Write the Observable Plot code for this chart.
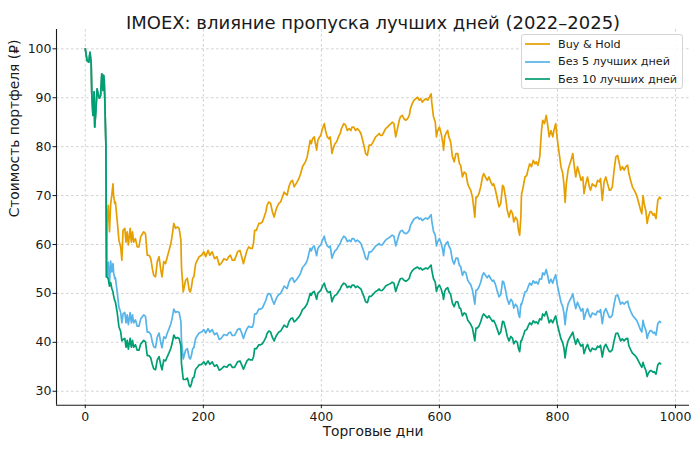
<!DOCTYPE html>
<html>
<head>
<meta charset="utf-8">
<script src="https://cdn.jsdelivr.net/npm/d3@7"></script>
<script src="https://cdn.jsdelivr.net/npm/@observablehq/plot@0.6"></script>
<style>
  html, body { margin: 0; padding: 0; background: #fff; }
  #wrap { position: relative; width: 700px; height: 449px; font-family: "DejaVu Sans", sans-serif; }
  #legend { position: absolute; left: 521px; top: 34px; width: 162px; height: 55px; box-sizing: border-box;
            border: 1px solid #d4d4d4; border-radius: 3px; background: rgba(255,255,255,0.85);
            font-size: 11.2px; color: #1a1a1a; }
  .item { position: absolute; left: 3px; height: 14px; display: flex; align-items: center; white-space: nowrap; }
  .item svg { margin-right: 8px; }
</style>
</head>
<body>
<div id="wrap"><div id="chart"></div><div id="legend"></div></div>
<script>
// ---- Data ----
const titleText = "IMOEX: влияние пропуска лучших дней (2022–2025)";
const xLabel = "Торговые дни";
const yLabel = "Стоимость портфеля (₽)";

const seriesNames = ["Buy & Hold", "Без 5 лучших дней", "Без 10 лучших дней"];
const seriesColors = ["#E69F00", "#56B4E9", "#009E73"];

const xTicks = [0, 200, 400, 600, 800, 1000];
const yTicks = [30, 40, 50, 60, 70, 80, 90, 100];

const days = [
  0,3,6,8,10,11,13,15,16,18,20,22,24,26,28,30,31,32,33,35,36,
  37,39,41,43,45,47,48,50,51,54,57,60,62,
  64,67,69,71,73,76,78,80,82,85,88,91,94,97,99,102,105,108,111,114,116,119,122,125,128,130,133,136,139,142,145,147,150,153,156,159,162,163,166,
  170,173,176,178,180,182,184,187,190,193,
  197,201,204,208,211,215,219,223,227,230,
  235,240,243,246,249,253,258,262,265,268,
  271,274,277,280,283,285,287,290,294,297,
  300,303,306,308,311,314,317,320,323,325,
  328,331,334,337,339,342,345,348,351,354,
  357,359,362,365,368,371,373,376,379,381,
  383,385,388,390,392,394,397,399,402,405,
  407,410,413,415,418,420,423,426,429,432,
  434,438,441,444,447,450,452,455,458,461,
  464,467,470,472,475,478,481,484,486,489,
  492,495,498,500,503,506,509,512,515,518,
  520,523,526,529,532,534,537,540,543,546,
  549,551,554,557,560,563,566,568,571,574,
  577,580,583,586,587,590,593,595,597,600,
  603,606,607,609,611,614,616,619,622,625,
  628,631,634,636,639,642,645,648,650,653,
  656,658,660,662,664,667,670,673,675,678,
  681,684,687,690,692,695,698,701,704,707,
  709,712,715,718,721,724,726,729,732,734,
  736,738,
  739,742,745,748,750,753,756,759,762,764,767,770,
  773,775,778,781,784,786,789,792,794,797,
  800,803,806,809,811,813,815,818,821,823,
  826,828,831,834,837,840,843,845,848,851,
  854,856,859,862,865,868,871,873,876,879,
  882,885,888,890,893,896,899,902,905,907,
  910,913,916,919,921,924,927,930,933,935,
  938,941,943,945,947,950,952,954,957,959,
  962,964,967,970,973,975
];

const buyHold = [
  100,97.6,97.3,99.3,97.0,91.0,86.4,91.2,84.0,87.4,91.8,90.6,89.9,90.5,94.9,91.5,94.6,93.8,90.1,80.0,53.4,
  64.5,68.0,62.6,68.2,70.2,72.4,70.0,68.4,68.7,65.0,60.9,59.5,56.8,
  62.9,63.3,60.5,62.6,59.9,63.3,60.5,62.6,60.5,61.2,59.5,59.5,61.6,62.2,62.6,62.2,57.8,57.8,57.1,54.8,53.7,53.4,56.5,57.5,54.8,53.4,56.5,56.1,57.5,58.8,60.2,61.6,64.3,63.3,63.6,63.3,60.9,55.4,50.3,
  52.7,53.1,50.7,50.3,51.4,53.1,53.4,56.1,56.8,57.5,
  57.8,58.5,57.5,58.8,57.8,58.5,57.1,57.5,55.8,56.1,
  57.1,56.8,57.5,57.8,56.8,56.8,58.5,58.8,57.5,56.1,
  57.5,58.8,59.5,59.2,59.2,60.2,62.9,62.9,64.3,64.3,
  64.6,65.6,66.7,68.0,68.7,68.4,66.7,65.6,67.0,67.7,
  68.4,68.7,69.7,70.7,70.4,70.1,71.8,72.8,73.1,71.8,
  72.4,72.8,73.5,74.5,75.9,76.5,76.9,77.9,79.9,81.3,
  80.6,81.6,82.0,80.6,79.3,81.3,82.0,82.3,83.7,84.7,
  83.3,82.0,81.6,82.0,78.6,79.6,80.6,81.0,82.0,82.7,
  83.7,84.7,84.4,83.3,83.7,83.3,84.0,84.0,83.3,83.7,
  83.3,82.7,81.3,80.3,78.6,78.2,80.3,80.3,80.6,81.3,
  82.0,82.3,82.7,82.3,82.3,83.0,83.7,84.0,84.4,84.7,
  85.0,84.7,82.0,83.7,85.4,86.1,86.4,85.7,85.4,85.7,
  86.4,87.8,88.8,89.5,89.8,90.1,89.5,89.8,89.1,89.5,
  89.8,89.5,90.1,90.8,89.1,86.1,85.0,82.0,83.3,84.0,
  82.7,80.6,79.3,82.0,82.7,83.3,82.0,81.0,78.0,76.9,
  78.6,78.6,76.5,76.2,73.8,74.8,74.5,72.4,71.8,71.1,
  69.7,67.7,65.6,69.7,69.7,70.4,71.8,73.8,74.5,73.8,
  73.1,73.8,72.8,72.1,72.4,71.1,69.4,67.7,68.4,72.1,
  71.8,69.7,67.0,65.6,67.0,66.3,64.6,65.6,65.0,62.9,
  61.9,65.6,
  70.1,71.8,73.8,74.1,75.2,76.5,75.9,77.2,76.5,76.9,76.2,77.9,
  83.3,85.4,84.7,86.4,84.0,82.0,83.3,82.0,83.3,84.7,
  81.3,78.6,75.9,74.5,72.4,68.6,72.4,75.2,76.5,77.2,
  78.6,76.5,73.8,75.9,74.5,73.1,73.8,70.4,72.4,73.8,
  71.8,71.1,72.4,72.1,71.8,73.1,72.8,73.5,69.0,72.8,
  73.8,72.4,71.1,71.1,71.8,75.2,77.9,78.2,76.5,75.2,
  75.9,75.2,75.9,76.2,74.5,73.1,71.8,71.1,70.4,69.7,
  68.4,67.0,66.3,70.0,68.4,66.7,64.3,65.6,66.7,66.7,
  66.0,66.3,65.3,69.0,69.7,69.4
];

const without5 = [
  100,97.6,97.3,99.3,97.0,91.0,86.4,91.2,84.0,87.4,91.8,90.6,89.9,90.5,94.9,91.5,94.6,93.8,90.1,80.0,53.4,
  53.4,56.4,52.0,56.6,54.4,56.1,54.3,53.0,53.2,50.4,47.2,46.1,44.0,
  45.8,46.1,44.0,45.6,43.6,46.1,44.0,45.6,44.0,44.6,43.3,43.3,44.8,45.3,45.6,45.3,42.1,42.1,41.6,39.9,39.1,38.9,41.1,41.9,39.9,38.9,41.1,40.8,41.9,42.8,43.8,44.8,46.8,46.1,46.3,46.1,44.3,40.3,36.6,
  38.4,38.7,36.9,36.6,37.4,38.7,38.9,40.8,41.4,41.9,
  42.1,42.6,41.9,42.8,42.1,42.6,41.6,41.9,40.6,40.8,
  41.6,41.4,41.9,42.1,41.4,41.4,42.6,42.8,41.9,40.8,
  41.9,42.8,43.3,43.1,43.1,43.8,45.8,45.8,46.8,46.8,
  47.0,47.8,48.6,49.5,50.0,49.8,48.6,47.8,48.8,49.3,
  49.8,50.0,50.7,51.5,51.3,51.0,52.3,53.0,53.2,52.3,
  52.7,53.0,53.5,54.2,55.3,55.7,56.0,56.7,58.2,59.2,
  58.7,59.4,59.7,58.7,57.7,59.2,59.7,59.9,60.9,61.7,
  60.6,59.7,59.4,59.7,57.2,57.9,58.7,59.0,59.7,60.2,
  60.9,61.7,61.4,60.6,60.9,60.6,61.2,61.2,60.6,60.9,
  60.6,60.2,59.2,58.5,57.2,56.9,58.5,58.5,58.7,59.2,
  59.7,59.9,60.2,59.9,59.9,60.4,60.9,61.2,61.4,61.7,
  61.9,61.7,59.7,60.9,62.2,62.7,62.9,62.4,62.2,62.4,
  62.9,63.9,64.6,65.2,65.4,65.6,65.2,65.4,64.9,65.2,
  65.4,65.2,65.6,66.1,64.9,62.7,61.9,59.7,60.6,61.2,
  60.2,58.7,57.7,59.7,60.2,60.6,59.7,59.0,56.8,56.0,
  57.2,57.2,55.7,55.5,53.7,54.5,54.2,52.7,52.3,51.8,
  50.7,49.3,47.8,50.7,50.7,51.3,52.3,53.7,54.2,53.7,
  53.2,53.7,53.0,52.5,52.7,51.8,50.5,49.3,49.8,52.5,
  52.3,50.7,48.8,47.8,48.8,48.3,47.0,47.8,47.3,45.8,
  45.1,47.8,
  47.7,48.9,50.3,50.5,51.2,52.1,51.7,52.6,52.1,52.4,51.9,53.0,
  52.9,54.2,53.8,54.9,53.3,52.1,52.9,52.1,52.9,53.8,
  51.6,49.9,48.2,47.3,46.0,43.6,46.0,47.8,48.6,49.0,
  49.9,48.6,46.9,48.2,47.3,46.4,46.9,44.7,46.0,46.9,
  45.6,45.1,46.0,45.8,45.6,46.4,46.2,46.7,43.8,46.2,
  46.9,46.0,45.1,45.1,45.6,47.8,49.5,49.7,48.6,47.8,
  48.2,47.8,48.2,48.4,47.3,46.4,45.6,45.1,44.7,44.3,
  43.4,42.5,42.1,44.5,43.4,42.4,40.8,41.7,42.4,42.4,
  41.9,42.1,41.5,43.8,44.3,44.1
];

const without10 = [
  100,97.6,97.3,99.3,97.0,91.0,86.4,91.2,84.0,87.4,91.8,90.6,89.9,90.5,94.9,91.5,94.6,93.8,90.1,80.0,53.4,
  53.4,53.0,51.5,52.2,51.0,50.3,49.5,48.5,48.3,46.2,43.2,42.2,40.3,
  40.6,40.8,39.0,40.4,38.6,40.8,39.0,40.4,39.0,39.5,38.4,38.4,39.7,40.1,40.4,40.1,37.3,37.3,36.8,35.3,34.6,34.4,36.4,37.1,35.3,34.4,36.4,36.2,37.1,37.9,38.8,39.7,41.5,40.8,41.0,40.8,39.3,35.7,32.4,
  32.4,32.7,31.2,30.9,31.6,32.7,32.8,34.5,34.9,35.4,
  35.5,36.0,35.4,36.2,35.5,36.0,35.1,35.4,34.3,34.5,
  35.1,34.9,35.4,35.5,34.9,34.9,36.0,36.2,35.4,34.5,
  35.4,36.2,36.6,36.4,36.4,37.0,38.7,38.7,39.5,39.5,
  39.7,40.3,41.0,41.8,42.3,42.1,41.0,40.3,41.2,41.6,
  42.1,42.3,42.9,43.5,43.3,43.1,44.2,44.8,45.0,44.2,
  44.5,44.8,45.2,45.8,46.7,47.0,47.3,47.9,49.1,50.0,
  49.6,50.2,50.4,49.6,48.8,50.0,50.4,50.6,51.5,52.1,
  51.2,50.4,50.2,50.4,48.3,49.0,49.6,49.8,50.4,50.9,
  51.5,52.1,51.9,51.2,51.5,51.2,51.7,51.7,51.2,51.5,
  51.2,50.9,50.0,49.4,48.3,48.1,49.4,49.4,49.6,50.0,
  50.4,50.6,50.9,50.6,50.6,51.0,51.5,51.7,51.9,52.1,
  52.3,52.1,50.4,51.5,52.5,53.0,53.1,52.7,52.5,52.7,
  53.1,54.0,54.6,55.0,55.2,55.4,55.0,55.2,54.8,55.0,
  55.2,55.0,55.4,55.8,54.8,53.0,52.3,50.4,51.2,51.7,
  50.9,49.6,48.8,50.4,50.9,51.2,50.4,49.8,48.0,47.3,
  48.3,48.3,47.0,46.9,45.4,46.0,45.8,44.5,44.2,43.7,
  42.9,41.6,40.3,42.9,42.9,43.3,44.2,45.4,45.8,45.4,
  45.0,45.4,44.8,44.3,44.5,43.7,42.7,41.6,42.1,44.3,
  44.2,42.9,41.2,40.3,41.2,40.8,39.7,40.3,40.0,38.7,
  38.1,40.3,
  40.3,41.3,42.4,42.6,43.2,44.0,43.6,44.4,44.0,44.2,43.8,44.8,
  44.6,45.8,45.4,46.3,45.0,44.0,44.6,44.0,44.6,45.4,
  43.6,42.1,40.7,39.9,38.8,36.8,38.8,40.3,41.0,41.4,
  42.1,41.0,39.6,40.7,39.9,39.2,39.6,37.7,38.8,39.6,
  38.5,38.1,38.8,38.6,38.5,39.2,39.0,39.4,37.0,39.0,
  39.6,38.8,38.1,38.1,38.5,40.3,41.8,41.9,41.0,40.3,
  40.7,40.3,40.7,40.8,39.3,38.5,37.8,37.5,37.1,36.7,
  36.0,35.3,34.9,35.9,35.1,34.2,33.0,33.7,34.2,34.2,
  33.9,34.0,33.5,35.4,35.8,35.6
];

// ---- Build long table for Plot ----
const seriesValues = [buyHold, without5, without10];
const rows = [];
seriesValues.forEach((vals, s) => {
  days.forEach((d, i) => rows.push({day: d, value: vals[i], series: seriesNames[s]}));
});

const xDomain = [-48.75, 1023.75];
const yDomain = [27.15, 103.95];
const gridStyle = {stroke: "#b8b8b8", strokeOpacity: 0.8, strokeWidth: 0.8, strokeDasharray: "2.6,2.4"};

const chart = Plot.plot({
  width: 700,
  height: 449,
  marginLeft: 56,
  marginRight: 11,
  marginTop: 29,
  marginBottom: 44.3,
  style: {fontFamily: "DejaVu Sans, sans-serif", fontSize: "12.5px", color: "#1a1a1a", background: "#fff", overflow: "visible"},
  x: {domain: xDomain},
  y: {domain: yDomain},
  color: {domain: seriesNames, range: seriesColors},
  marks: [
    Plot.gridX(xTicks, gridStyle),
    Plot.gridY(yTicks, gridStyle),
    Plot.axisX(xTicks, {tickSize: 3.5, tickPadding: 3.5, label: null, fontSize: 12.5, tickFormat: d => String(d)}),
    Plot.axisY(yTicks, {tickSize: 3.5, tickPadding: 1.5, label: null, fontSize: 12.5, tickFormat: d => String(d)}),
    Plot.line(rows, {x: "day", y: "value", z: "series", stroke: "series", strokeWidth: 1.7, strokeLinejoin: "round"}),
    Plot.ruleX([xDomain[0]], {stroke: "#1a1a1a", strokeWidth: 1.1}),
    Plot.ruleY([yDomain[0]], {stroke: "#1a1a1a", strokeWidth: 1.1}),
    Plot.text([titleText], {text: d => d, frameAnchor: "top", dy: -13, fontSize: 18, fill: "#1a1a1a"}),
    Plot.text([xLabel], {text: d => d, frameAnchor: "bottom", dy: 30.5, fontSize: 13.8, fill: "#1a1a1a"}),
    Plot.text([yLabel], {text: d => d, frameAnchor: "left", dx: -42, rotate: -90, fontSize: 13.8, fill: "#1a1a1a"})
  ]
});
document.getElementById("chart").appendChild(chart);

// ---- Legend (inside the plot, upper right) ----
const legend = d3.select("#legend");
seriesNames.forEach((name, i) => {
  const item = legend.append("div").attr("class", "item").style("top", (2 + i * 17.6) + "px");
  const sw = item.append("svg").attr("width", 25).attr("height", 14);
  sw.append("line").attr("x1", 0).attr("x2", 25).attr("y1", 7).attr("y2", 7)
    .attr("stroke", seriesColors[i]).attr("stroke-width", 1.7);
  item.append("span").text(name);
});
</script>
</body>
</html>
